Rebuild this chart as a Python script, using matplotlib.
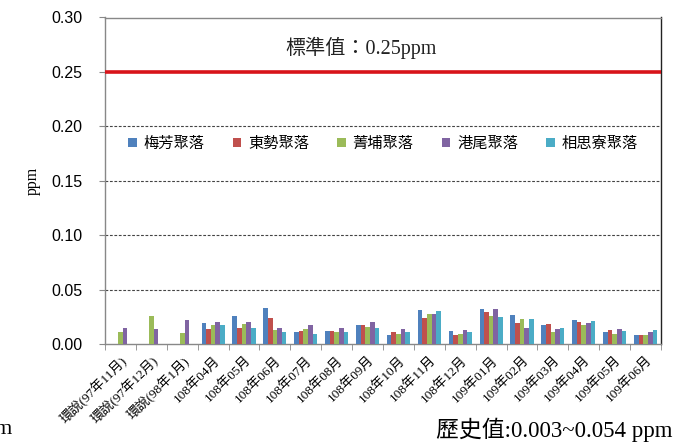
import numpy as np
import matplotlib
matplotlib.use("Agg")
import matplotlib.pyplot as plt
from matplotlib.ticker import FixedLocator, NullFormatter

CJK = "Noto Sans CJK TC"
SERIF = ["Liberation Serif", CJK]

categories = [
    "環說(97年11月)", "環說(97年12月)", "環說(98年1月)",
    "108年04月", "108年05月", "108年06月", "108年07月", "108年08月",
    "108年09月", "108年10月", "108年11月", "108年12月",
    "109年01月", "109年02月", "109年03月", "109年04月", "109年05月", "109年06月",
]

series_names = ["梅芳聚落", "東勢聚落", "菁埔聚落", "港尾聚落", "相思寮聚落"]

nan = np.nan
meifang   = [nan, nan, nan, 0.019, 0.026, 0.033, 0.011, 0.012, 0.0175, 0.0085, 0.031, 0.012, 0.032, 0.027, 0.0175, 0.022, 0.011, 0.0085]
dongshi   = [nan, nan, nan, 0.014, 0.015, 0.024, 0.012, 0.012, 0.0175, 0.011, 0.024, 0.0085, 0.029, 0.019, 0.0185, 0.020, 0.0125, 0.0085]
jingpu    = [0.011, 0.026, 0.010, 0.017, 0.018, 0.013, 0.014, 0.011, 0.016, 0.009, 0.0275, 0.0095, 0.026, 0.023, 0.011, 0.0175, 0.0095, 0.0085]
gangwei   = [0.015, 0.014, 0.022, 0.020, 0.020, 0.0145, 0.0175, 0.0145, 0.020, 0.0135, 0.028, 0.0125, 0.032, 0.015, 0.0135, 0.019, 0.0135, 0.011]
xiangsi   = [nan, nan, nan, 0.017, 0.015, 0.011, 0.0095, 0.011, 0.0145, 0.011, 0.030, 0.011, 0.025, 0.023, 0.015, 0.021, 0.0115, 0.0125]

series_values = [meifang, dongshi, jingpu, gangwei, xiangsi]
colors = ["#4F81BD", "#C0504D", "#9BBB59", "#8064A2", "#4BACC6"]

standard_value = 0.25
y_ticks = [0.00, 0.05, 0.10, 0.15, 0.20, 0.25, 0.30]

fig = plt.figure(figsize=(6.78, 4.43), dpi=100)
ax = fig.add_axes([105 / 678, 99 / 443, 556 / 678, 326.5 / 443])

n = len(categories)
x = np.arange(n)
bar_w = 0.15
for i, (name, vals, c) in enumerate(zip(series_names, series_values, colors)):
    ax.bar(x + (i - 2) * bar_w, vals, width=bar_w, color=c, label=name, zorder=3)

# Standard limit line
ax.axhline(standard_value, color="#D8141A", lw=2.6, zorder=4)
ax.text(7.8, 0.2725, "標準值：0.25ppm", ha="center", va="center",
        fontsize=14.5, family=SERIF, color="#222222")

ax.set_xlim(-0.5, n - 0.5)
ax.set_ylim(0, 0.30)
ax.set_yticks(y_ticks)
ax.set_yticklabels([f"{v:.2f}" for v in y_ticks], family="Liberation Sans", fontsize=11.5)
for yv in [0.05, 0.10, 0.15, 0.20]:
    ax.axhline(yv, color="#444444", lw=0.8, ls=(0, (2.5, 1.5)), zorder=1)

ax.set_xticks(x)
ax.set_xticklabels(categories, rotation=45, ha="right", rotation_mode="anchor",
                   family=SERIF, fontsize=9.5)
ax.xaxis.set_minor_locator(FixedLocator(np.arange(-0.5, n, 1.0)))
ax.xaxis.set_minor_formatter(NullFormatter())
ax.tick_params(axis="x", which="major", length=0, pad=7)
ax.tick_params(axis="x", which="minor", length=4, color="#888888")
ax.tick_params(axis="y", length=4, color="#888888", pad=12)

for side in ["left", "bottom"]:
    ax.spines[side].set_color("#888888")
ax.spines["top"].set_color("#888888")
ax.spines["right"].set_color("#222222")
for s in ax.spines.values():
    s.set_linewidth(1.0)

ax.set_ylabel("ppm", family=SERIF, fontsize=11.5, labelpad=8)

ax.legend(loc="center", bbox_to_anchor=(0.5, 0.615), ncol=5, frameon=False,
          prop={"family": CJK, "size": 11}, handlelength=0.55, handleheight=0.55,
          handletextpad=0.45, columnspacing=1.85)

fig.text(672 / 678, 1 - 430 / 443, "歷史值:0.003~0.054 ppm", ha="right", va="center",
         fontsize=16.5, family=SERIF)
fig.text(0.004, 1 - 430 / 443, "m", ha="center", va="center", fontsize=16,
         family=SERIF)

fig.savefig("out.png", dpi=100, facecolor="white")
